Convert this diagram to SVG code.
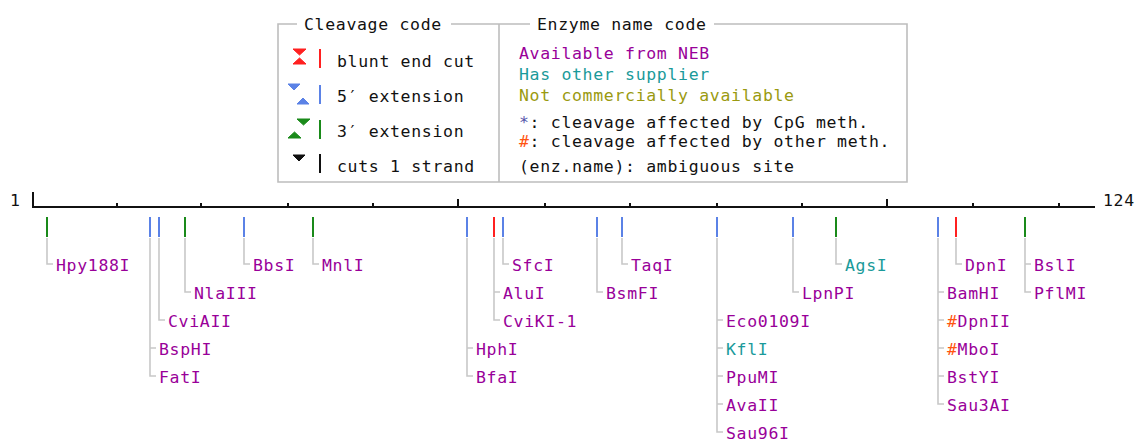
<svg xmlns="http://www.w3.org/2000/svg" width="1144" height="442" viewBox="0 0 1144 442">
  <style>
    text { font-family: "DejaVu Sans Mono", "Liberation Mono", monospace; font-size: 16.5px; letter-spacing: 0.67px; }
    .ink { fill: #111; }
    .neb { fill: #990099; }
    .oth { fill: #1a9a9a; }
    .non { fill: #9a9a10; }
    .cpg { fill: #5555aa; }
    .mth { fill: #ff5511; }
    .frame { fill: none; stroke: #bdbdbd; stroke-width: 1.6; }
    .rule { fill: none; stroke: #111; stroke-width: 2; }
    .stem { fill: none; stroke: #c8c8c8; stroke-width: 1.6; }
    .cut { stroke-width: 2; }
    .blunt { stroke: #ff2020; fill: #ff2020; }
    .five { stroke: #5b82e6; fill: #5b82e6; }
    .three { stroke: #1a8a1a; fill: #1a8a1a; }
    .one { stroke: #111; fill: #111; }
  </style>

  <!-- legend -->
  <g id="legend">
    <path class="frame" d="M297 24 H278 V182 H907 V24 H714 M705 24 M530 24 H499 V182 M499 24 H451"/>
    <text class="ink" x="304" y="30">Cleavage code</text>
    <text class="ink" x="537" y="30">Enzyme name code</text>

    <!-- cleavage symbols -->
    <polygon class="blunt" points="293,49 306,49 299.5,55"/>
    <polygon class="blunt" points="293,64 306,64 299.5,58"/>
    <line class="cut blunt" x1="320" y1="49" x2="320" y2="68"/>
    <text class="ink" x="337" y="67">blunt end cut</text>

    <polygon class="five" points="288,84 300,84 294,90"/>
    <polygon class="five" points="297,104 309,104 303,98"/>
    <line class="cut five" x1="320" y1="85" x2="320" y2="104"/>
    <text class="ink" x="337" y="102">5′ extension</text>

    <polygon class="three" points="297,119 310,119 303.5,125"/>
    <polygon class="three" points="288,138 301,138 294.5,132"/>
    <line class="cut three" x1="320" y1="120" x2="320" y2="139"/>
    <text class="ink" x="337" y="137">3′ extension</text>

    <polygon class="one" points="293,155 305,155 299,161"/>
    <line class="cut one" x1="320" y1="154" x2="320" y2="173"/>
    <text class="ink" x="337" y="172">cuts 1 strand</text>

    <!-- name colour codes -->
    <text class="neb" x="519" y="59">Available from NEB</text>
    <text class="oth" x="519" y="80">Has other supplier</text>
    <text class="non" x="519" y="101">Not commercially available</text>
    <text class="ink" x="519" y="128"><tspan class="cpg">*</tspan>: cleavage affected by CpG meth.</text>
    <text class="ink" x="519" y="147"><tspan class="mth">#</tspan>: cleavage affected by other meth.</text>
    <text class="ink" x="519" y="172">(enz.name): ambiguous site</text>
  </g>

  <!-- sequence ruler -->
  <g id="ruler">
    <path class="rule" d="M32 207 H1095 M33 192 V207 M458 199 V207 M887 199 V207
      M117 203 V207 M201 203 V207 M288 203 V207 M373 203 V207 M545 203 V207
      M630 203 V207 M717 203 V207 M802 203 V207 M973 203 V207 M1059 203 V207"/>
    <text class="ink" x="10" y="206">1</text>
    <text class="ink" x="1103" y="206">124</text>
  </g>

  <!-- leader lines from cut sites to names -->
  <g id="connectors">
    <path class="stem" d="M47 238 V264 H53"/>
    <path class="stem" d="M150 238 V376 H156 M150 348 H156"/>
    <path class="stem" d="M159 238 V320 H165"/>
    <path class="stem" d="M185 238 V292 H191"/>
    <path class="stem" d="M244 238 V264 H250"/>
    <path class="stem" d="M313 238 V264 H319"/>
    <path class="stem" d="M467 238 V376 H473 M467 348 H473"/>
    <path class="stem" d="M494 238 V320 H500 M494 292 H500"/>
    <path class="stem" d="M503 238 V264 H509"/>
    <path class="stem" d="M597 238 V292 H603"/>
    <path class="stem" d="M622 238 V264 H628"/>
    <path class="stem" d="M717 238 V432 H723 M717 320 H723 M717 348 H723 M717 376 H723 M717 404 H723"/>
    <path class="stem" d="M793 238 V292 H799"/>
    <path class="stem" d="M836 238 V264 H842"/>
    <path class="stem" d="M938 238 V404 H944 M938 292 H944 M938 320 H944 M938 348 H944 M938 376 H944"/>
    <path class="stem" d="M956 238 V264 H962"/>
    <path class="stem" d="M1025 238 V292 H1031 M1025 264 H1031"/>
  </g>

  <!-- enzyme sites -->
  <g id="site-hpy188i">
    <line class="cut three" x1="47" y1="217" x2="47" y2="237"/>
    <text class="neb" x="56" y="271">Hpy188I</text>
  </g>
  <g id="site-bsphi">
    <line class="cut five" x1="150" y1="217" x2="150" y2="237"/>
    <text class="neb" x="159" y="355">BspHI</text>
    <text class="neb" x="159" y="383">FatI</text>
  </g>
  <g id="site-cviaii">
    <line class="cut five" x1="159" y1="217" x2="159" y2="237"/>
    <text class="neb" x="168" y="327">CviAII</text>
  </g>
  <g id="site-nlaiii">
    <line class="cut three" x1="185" y1="217" x2="185" y2="237"/>
    <text class="neb" x="194" y="299">NlaIII</text>
  </g>
  <g id="site-bbsi">
    <line class="cut five" x1="244" y1="217" x2="244" y2="237"/>
    <text class="neb" x="253" y="271">BbsI</text>
  </g>
  <g id="site-mnli">
    <line class="cut three" x1="313" y1="217" x2="313" y2="237"/>
    <text class="neb" x="322" y="271">MnlI</text>
  </g>
  <g id="site-hphi">
    <line class="cut five" x1="467" y1="217" x2="467" y2="237"/>
    <text class="neb" x="476" y="355">HphI</text>
    <text class="neb" x="476" y="383">BfaI</text>
  </g>
  <g id="site-alui">
    <line class="cut blunt" x1="494" y1="217" x2="494" y2="237"/>
    <text class="neb" x="503" y="299">AluI</text>
    <text class="neb" x="503" y="327">CviKI-1</text>
  </g>
  <g id="site-sfci">
    <line class="cut five" x1="503" y1="217" x2="503" y2="237"/>
    <text class="neb" x="512" y="271">SfcI</text>
  </g>
  <g id="site-bsmfi">
    <line class="cut five" x1="597" y1="217" x2="597" y2="237"/>
    <text class="neb" x="606" y="299">BsmFI</text>
  </g>
  <g id="site-taqi">
    <line class="cut five" x1="622" y1="217" x2="622" y2="237"/>
    <text class="neb" x="631" y="271">TaqI</text>
  </g>
  <g id="site-eco0109i">
    <line class="cut five" x1="717" y1="217" x2="717" y2="237"/>
    <text class="neb" x="726" y="327">Eco0109I</text>
    <text class="oth" x="726" y="355">KflI</text>
    <text class="neb" x="726" y="383">PpuMI</text>
    <text class="neb" x="726" y="411">AvaII</text>
    <text class="neb" x="726" y="439">Sau96I</text>
  </g>
  <g id="site-lpnpi">
    <line class="cut five" x1="793" y1="217" x2="793" y2="237"/>
    <text class="neb" x="802" y="299">LpnPI</text>
  </g>
  <g id="site-agsi">
    <line class="cut three" x1="836" y1="217" x2="836" y2="237"/>
    <text class="oth" x="845" y="271">AgsI</text>
  </g>
  <g id="site-bamhi">
    <line class="cut five" x1="938" y1="217" x2="938" y2="237"/>
    <text class="neb" x="947" y="299">BamHI</text>
    <text class="neb" x="947" y="327"><tspan class="mth">#</tspan>DpnII</text>
    <text class="neb" x="947" y="355"><tspan class="mth">#</tspan>MboI</text>
    <text class="neb" x="947" y="383">BstYI</text>
    <text class="neb" x="947" y="411">Sau3AI</text>
  </g>
  <g id="site-dpni">
    <line class="cut blunt" x1="956" y1="217" x2="956" y2="237"/>
    <text class="neb" x="965" y="271">DpnI</text>
  </g>
  <g id="site-bsli">
    <line class="cut three" x1="1025" y1="217" x2="1025" y2="237"/>
    <text class="neb" x="1034" y="271">BslI</text>
    <text class="neb" x="1034" y="299">PflMI</text>
  </g>
</svg>
